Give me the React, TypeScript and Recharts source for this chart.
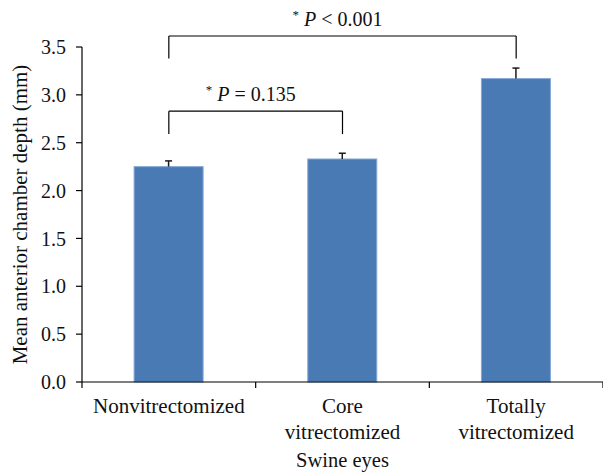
import React from 'react';
import { BarChart, Bar, XAxis, YAxis, ReferenceLine } from 'recharts';

const FONT = '"Liberation Serif", "Times New Roman", serif';

const categories = ['Nonvitrectomized', 'Core vitrectomized', 'Totally vitrectomized'];
const tickLabelLines = [['Nonvitrectomized'], ['Core', 'vitrectomized'], ['Totally', 'vitrectomized']];
const means = [2.25, 2.33, 3.17];
const upperErrors = [0.06, 0.06, 0.11];
const yTicks = [0, 0.5, 1, 1.5, 2, 2.5, 3, 3.5];

const bracketFrom = [categories[0], categories[0]];
const bracketTo = [categories[1], categories[2]];
const bracketTop = [2.83, 3.615];
const bracketFoot = [2.59, 3.38];
const bracketText = ['= 0.135', '< 0.001'];

const data = categories.map((name, i) => ({ name, mean: means[i], err: upperErrors[i] }));

const BarWithError = (props: any) => {
  const { x, y, width, height, payload } = props;
  const pxPerUnit = payload.mean ? height / payload.mean : 0;
  const errPx = payload.err * pxPerUnit;
  const cx = x + width / 2;
  return (
    <g>
      <rect x={x} y={y} width={width} height={height} fill="#4a7ab4" stroke="#86a7d6" strokeWidth={1} />
      <line x1={cx} x2={cx} y1={y} y2={y - errPx} stroke="#1a1a1a" strokeWidth={1.5} />
      <line x1={cx - 3.5} x2={cx + 3.5} y1={y - errPx} y2={y - errPx} stroke="#1a1a1a" strokeWidth={1.5} />
    </g>
  );
};

const XTick = (props: any) => {
  const { x, y, index, width, visibleTicksCount } = props;
  const lines = tickLabelLines[index] || [];
  const band = width && visibleTicksCount ? width / visibleTicksCount : 0;
  const ticks = band ? [x - band / 2] : [];
  if (band && index === visibleTicksCount - 1) ticks.push(x + band / 2);
  return (
    <g>
      {ticks.map((tx, k) => (
        <line key={k} x1={tx} x2={tx} y1={y} y2={y + 6} stroke="#000" strokeWidth={1.2} />
      ))}
      <text x={x} y={y + 31} textAnchor="middle" fontFamily={FONT} fontSize={21} fill="#111">
        {lines.map((l, k) => (
          <tspan key={k} x={x} dy={k === 0 ? 0 : 26}>
            {l}
          </tspan>
        ))}
      </text>
    </g>
  );
};

const YLabel = (props: any) => {
  const vb = props.viewBox || { x: 0, y: 0, width: 0, height: 0 };
  const cx = vb.x + 27;
  const cy = vb.y + vb.height / 2;
  return (
    <text
      x={cx}
      y={cy}
      transform={`rotate(-90, ${cx}, ${cy})`}
      textAnchor="middle"
      fontFamily={FONT}
      fontSize={21}
      fill="#111"
    >
      Mean anterior chamber depth (mm)
    </text>
  );
};

const makePLabel = (text: string) => (p: any) => {
  const vb = p.viewBox || { x: 0, y: 0, width: 0 };
  const cx = vb.x + (vb.width || 0) / 2 - 5;
  const cy = vb.y - 10;
  return (
    <text x={cx} y={cy} textAnchor="middle" fontFamily={FONT} fontSize={20} fill="#111">
      <tspan fontSize={13} dy={-7}>*</tspan>
      <tspan dy={7} fontStyle="italic">{' P'}</tspan>
      <tspan>{' ' + text}</tspan>
    </text>
  );
};

export default function App() {
  return (
    <div style={{ position: 'absolute', left: 0, top: 0, width: 603, height: 472, background: '#fff' }}>
      <BarChart
        width={603}
        height={472}
        data={data}
        margin={{ top: 47, right: 0, bottom: 0, left: 0 }}
        barCategoryGap="30%"
      >
        <XAxis
          dataKey="name"
          interval={0}
          tickLine={false}
          tickSize={0}
          tickMargin={0}
          axisLine={{ stroke: '#000', strokeWidth: 1.2 }}
          height={90}
          tick={<XTick />}
          label={{ value: 'Swine eyes', position: 'insideBottom', offset: 5, fill: '#111', fontSize: 20.5, fontFamily: FONT }}
        />
        <YAxis
          domain={[0, 3.5]}
          ticks={yTicks}
          interval={0}
          width={82}
          tickSize={6}
          tickMargin={10}
          tickFormatter={(v: number) => v.toFixed(1)}
          tick={{ fill: '#111', fontSize: 20, fontFamily: FONT }}
          tickLine={{ stroke: '#000', strokeWidth: 1.2 }}
          axisLine={{ stroke: '#000', strokeWidth: 1.2 }}
          label={YLabel}
        />
        <Bar dataKey="mean" shape={BarWithError} isAnimationActive={false} />
        {bracketFrom.map((from, i) => (
          <ReferenceLine
            key={`h${i}`}
            segment={[{ x: from, y: bracketTop[i] }, { x: bracketTo[i], y: bracketTop[i] }]}
            ifOverflow="visible"
            stroke="#000"
            strokeWidth={1.2}
            label={makePLabel(bracketText[i])}
          />
        ))}
        {bracketFrom.map((from, i) => (
          <ReferenceLine
            key={`l${i}`}
            segment={[{ x: from, y: bracketTop[i] }, { x: from, y: bracketFoot[i] }]}
            ifOverflow="visible"
            stroke="#000"
            strokeWidth={1.2}
          />
        ))}
        {bracketTo.map((to, i) => (
          <ReferenceLine
            key={`r${i}`}
            segment={[{ x: to, y: bracketTop[i] }, { x: to, y: bracketFoot[i] }]}
            ifOverflow="visible"
            stroke="#000"
            strokeWidth={1.2}
          />
        ))}
      </BarChart>
    </div>
  );
}
